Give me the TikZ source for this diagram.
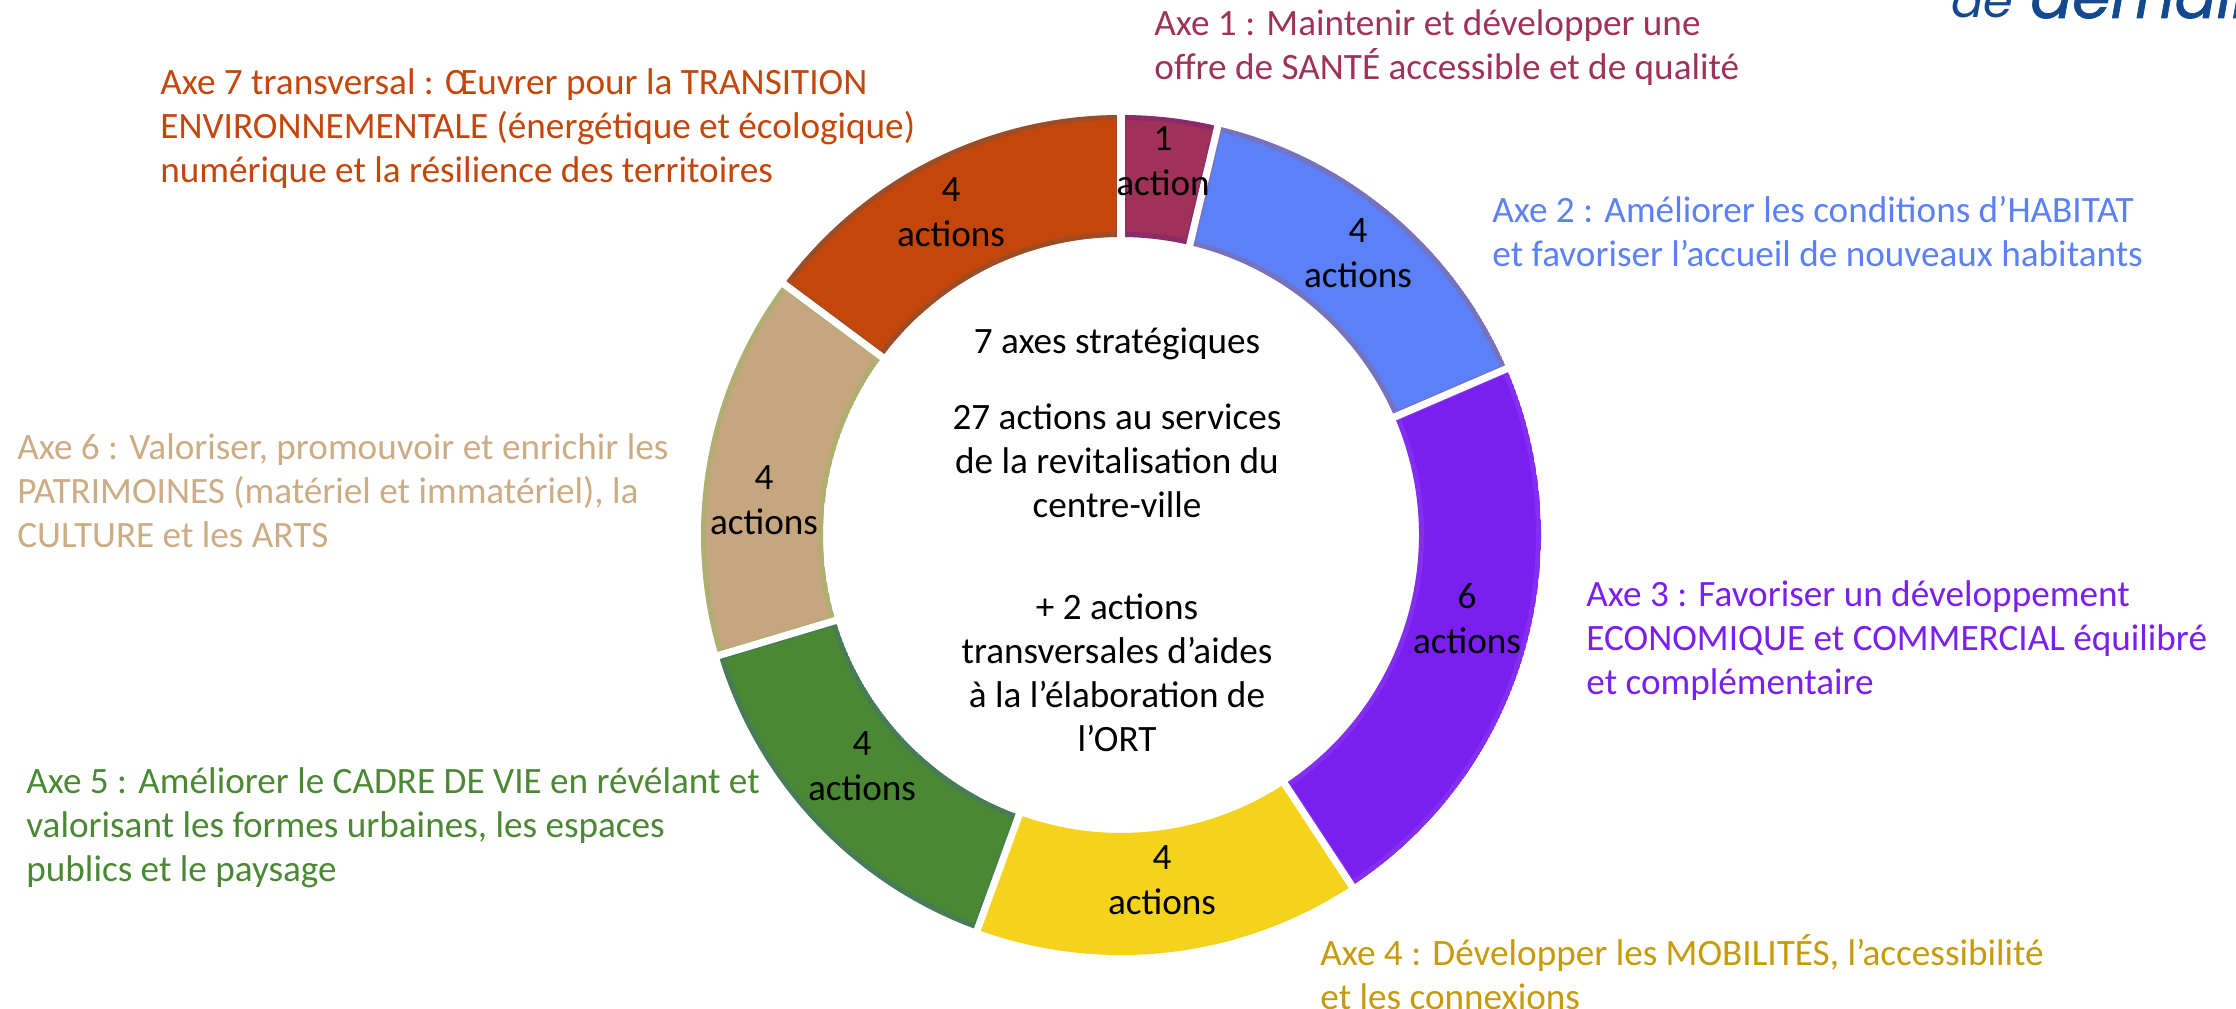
\documentclass[tikz,border=0pt]{standalone}
\usepackage{fontspec}
\setmainfont{Carlito}
\newfontfamily\logofont{Poppins}
\newfontfamily\logofontb[FakeBold=1.2]{Poppins}
\definecolor{cA}{HTML}{A0325A}
\definecolor{cB}{HTML}{5B80F8}
\definecolor{cC}{HTML}{7A1FF0}
\definecolor{cD}{HTML}{F5D21B}
\definecolor{cE}{HTML}{4B8834}
\definecolor{cF}{HTML}{C5A67F}
\definecolor{cG}{HTML}{C4460A}
\definecolor{tD}{HTML}{C79A0A}
\definecolor{tF}{HTML}{CBAC85}
\definecolor{logoc}{HTML}{14498F}
\newcommand{\ringseg}[4]{%
  \begin{scope}
    \clip (#1:420) arc[start angle=#1,end angle=#2,radius=420] -- (#2:298) arc[start angle=#2,end angle=#1,radius=298] -- cycle;
    \fill[#3] (#1:420) arc[start angle=#1,end angle=#2,radius=420] -- (#2:298) arc[start angle=#2,end angle=#1,radius=298] -- cycle;
    \draw[#4,line width=5,opacity=.35] (#1:420) arc[start angle=#1,end angle=#2,radius=420] -- (#2:298) arc[start angle=#2,end angle=#1,radius=298] -- cycle;
  \end{scope}}
\tikzset{
  axetext/.style={inner sep=0pt,anchor=west,align=left,font=\fontsize{18.6}{22}\selectfont},
  counttext/.style={inner sep=0pt,align=center,text=black,font=\fontsize{18.6}{22.5}\selectfont},
  centertext/.style={inner sep=0pt,align=center,text=black,font=\fontsize{18.6}{22}\selectfont},
  separator/.style={white,line width=3.6}
}
\begin{document}
\begin{tikzpicture}[x=0.5pt,y=0.5pt]
\path[use as bounding box] (0,0) rectangle (2236,1008);
% ring
\begin{scope}[shift={(1121,473)}]
  \ringseg{76.67}{90}{cA}{black!10!cA!70!blue}
  \ringseg{23.33}{76.67}{cB}{gray!70!red}
  \ringseg{-56.67}{23.33}{cC}{cC!80!white}
  \ringseg{-110}{-56.67}{cD}{cD}
  \ringseg{-163.33}{-110}{cE}{teal!60!blue!50!gray}
  \ringseg{-216.67}{-163.33}{cF}{cF!70!green}
  \ringseg{-270}{-216.67}{cG}{gray!70!black}
  \foreach \a in {90,76.67,23.33,-56.67,-110,-163.33,-216.67}
    \draw[separator] (\a:292) -- (\a:426);
\end{scope}
% logo
\begin{scope}
  \clip (0,0) rectangle (2236,1008);
  \node[inner sep=0pt,anchor=base west,text=logoc,font=\logofont\fontsize{24}{24}\selectfont\itshape] (logoa) at (1951,990) {de};
  \node[inner sep=0pt,anchor=base west,text=logoc,font=\logofontb\fontsize{31}{31}\selectfont\itshape] (logob) at (2030,990) {demain};
\end{scope}
% axis labels
\node[axetext,text=cA] (axe1) at (1154,960) {Axe 1 : Maintenir et développer une\\offre de SANTÉ accessible et de qualité};
\node[axetext,text=cB] (axe2) at (1492,776) {Axe 2 : Améliorer les conditions d’HABITAT\\et favoriser l’accueil de nouveaux habitants};
\node[axetext,text=cC] (axe3) at (1586,367) {Axe 3 : Favoriser un développement\\ECONOMIQUE et COMMERCIAL équilibré\\et complémentaire};
\node[axetext,text=tD] (axe4) at (1320,36) {Axe 4 : Développer les MOBILITÉS, l’accessibilité\\et les connexions};
\node[axetext,text=cE] (axe5) at (26,180) {Axe 5 : Améliorer le CADRE DE VIE en révélant et\\valorisant les formes urbaines, les espaces\\publics et le paysage};
\node[axetext,text=tF] (axe6) at (17,517) {Axe 6 : Valoriser, promouvoir et enrichir les\\PATRIMOINES (matériel et immatériel), la\\CULTURE et les ARTS};
\node[axetext,text=cG] (axe7) at (160,879) {Axe 7 transversal : Œuvrer pour la TRANSITION\\ENVIRONNEMENTALE (énergétique et écologique)\\numérique et la résilience des territoires};
% counts
\node[counttext] (n1) at (1163,847) {1\\action};
\node[counttext] (n2) at (1358,755) {4\\actions};
\node[counttext] (n3) at (1467,389) {6\\actions};
\node[counttext] (n4) at (1162,128) {4\\actions};
\node[counttext] (n5) at (862,242) {4\\actions};
\node[counttext] (n6) at (764,508) {4\\actions};
\node[counttext] (n7) at (951,796) {4\\actions};
% centre
\node[centertext] (c1) at (1117,664) {7 axes stratégiques};
\node[centertext] (c2) at (1117,547) {27 actions au services\\de la revitalisation du\\centre-ville};
\node[centertext] (c3) at (1117,335) {+ 2 actions\\transversales d’aides\\à la l’élaboration de\\l’ORT};
\end{tikzpicture}
\end{document}
